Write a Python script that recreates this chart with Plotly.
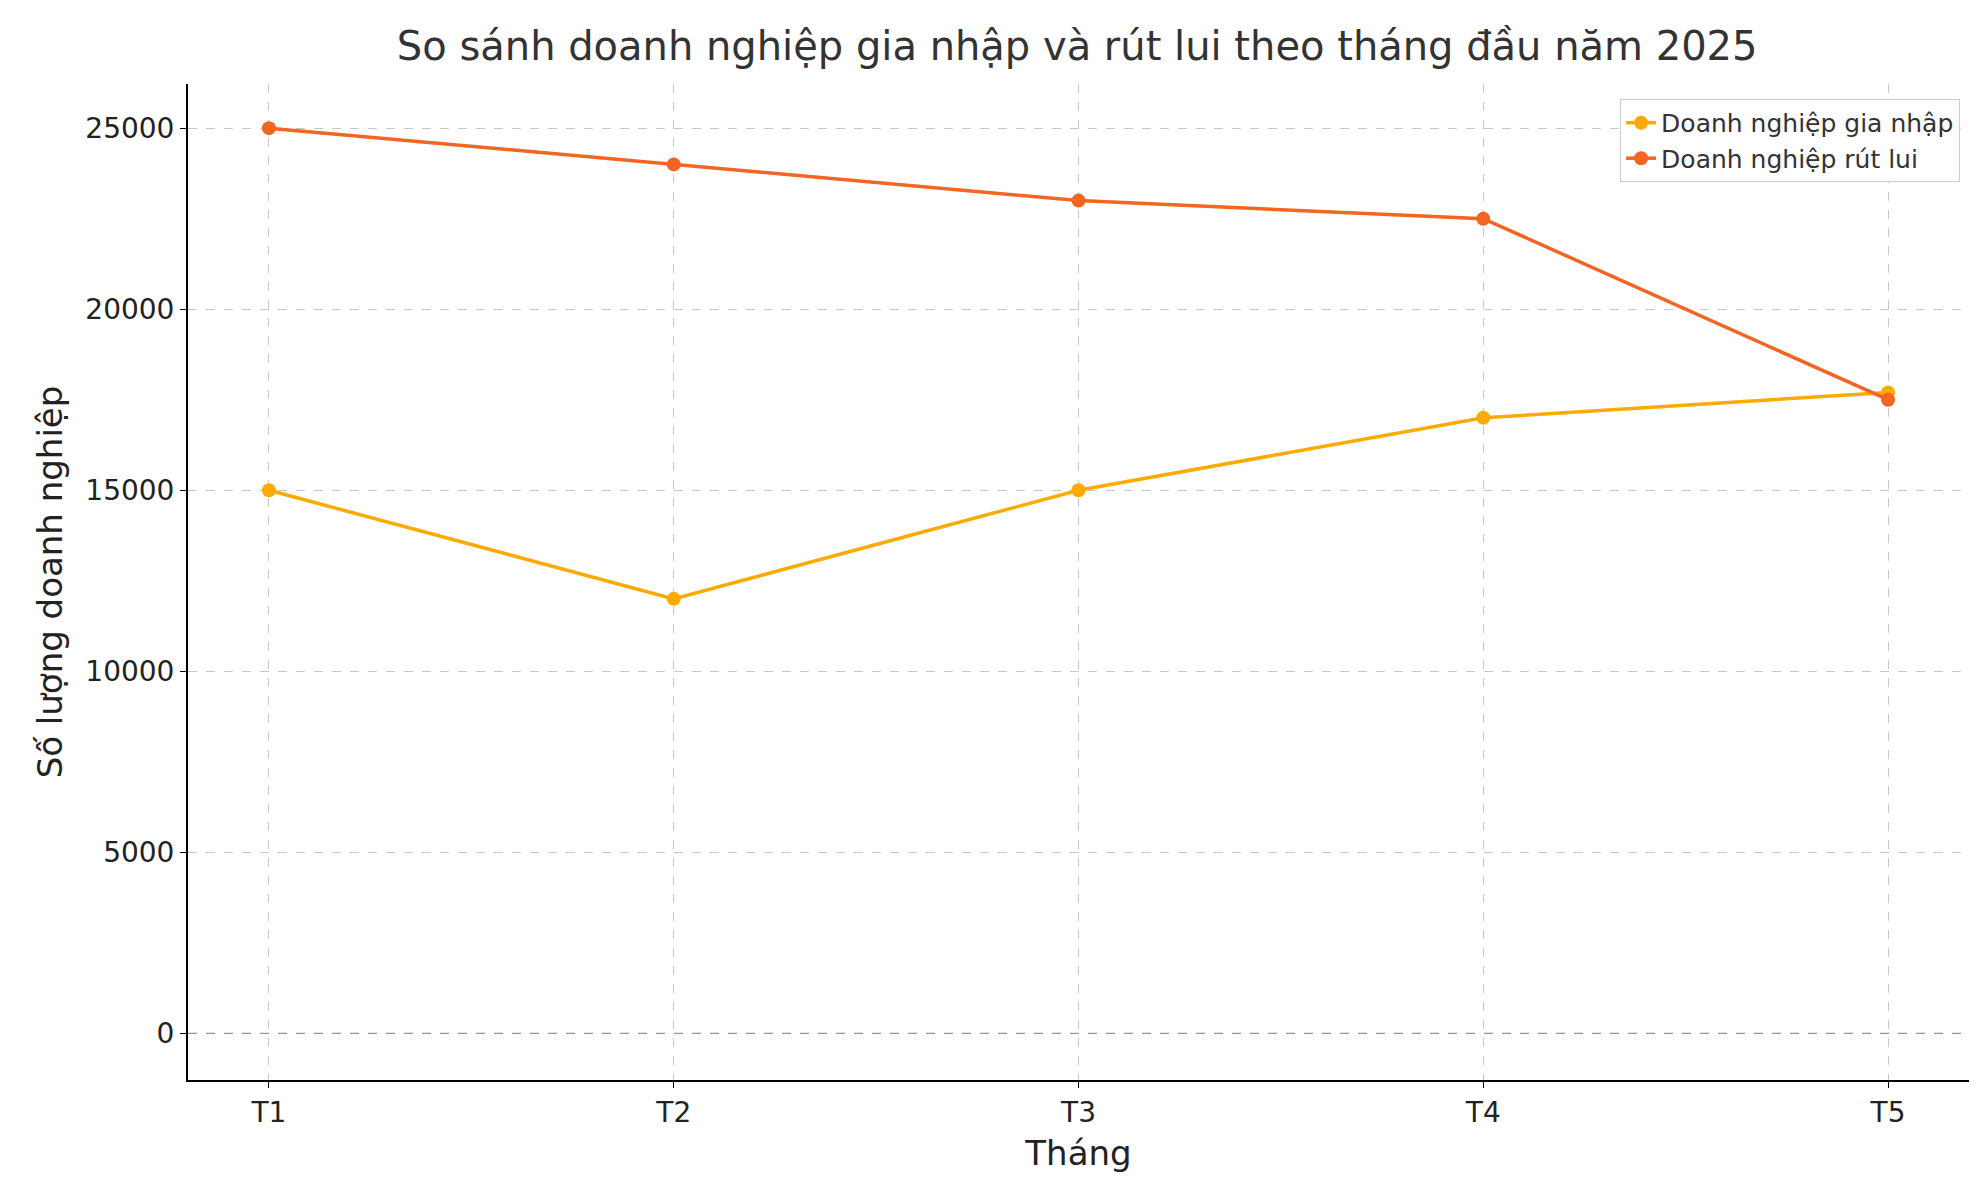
import plotly.graph_objects as go

months = ["T1", "T2", "T3", "T4", "T5"]
gia_nhap = [15000, 12000, 15000, 17000, 17700]
rut_lui = [25000, 24000, 23000, 22500, 17500]

fig = go.Figure()
fig.add_trace(go.Scatter(x=months, y=gia_nhap, mode="lines+markers", name="Doanh nghiệp gia nhập",
                         line=dict(color="#FFAA00", width=3.5), marker=dict(size=14, color="#FFAA00")))
fig.add_trace(go.Scatter(x=months, y=rut_lui, mode="lines+markers", name="Doanh nghiệp rút lui",
                         line=dict(color="#F26522", width=3.5), marker=dict(size=14, color="#F26522")))

fig.add_hline(y=0, line=dict(color="#888888", width=1, dash="dash"))

fig.update_layout(
    width=1980, height=1180,
    font=dict(family="DejaVu Sans", size=28, color="#222"),
    plot_bgcolor="white", paper_bgcolor="white",
    margin=dict(l=180, r=19, t=76, b=108),
    title=dict(text="So sánh doanh nghiệp gia nhập và rút lui theo tháng đầu năm 2025",
               x=0.54, xanchor="center", y=0.968, yanchor="middle", font=dict(size=40, color="#333")),
    legend=dict(x=0.995, y=0.985, xanchor="right", yanchor="top", bgcolor="white",
                bordercolor="#cccccc", borderwidth=1, font=dict(size=25, color="#333")),
    xaxis=dict(title=dict(text="Tháng", standoff=14), range=[-0.2, 4.2], showline=True, linecolor="black",
               linewidth=2, ticks="outside", ticklen=6, tickcolor="black",
               showgrid=True, gridcolor="#c8c8c8", griddash="dash", zeroline=False),
    yaxis=dict(title=dict(text="Số lượng doanh nghiệp", standoff=12), range=[-1290, 26220],
               tickvals=[0, 5000, 10000, 15000, 20000, 25000], tickformat="d", showline=True,
               linecolor="black", linewidth=2, ticks="outside", ticklen=6, tickcolor="black",
               showgrid=True, gridcolor="#c8c8c8", griddash="dash", zeroline=False),
)
fig.write_html("out.html")
